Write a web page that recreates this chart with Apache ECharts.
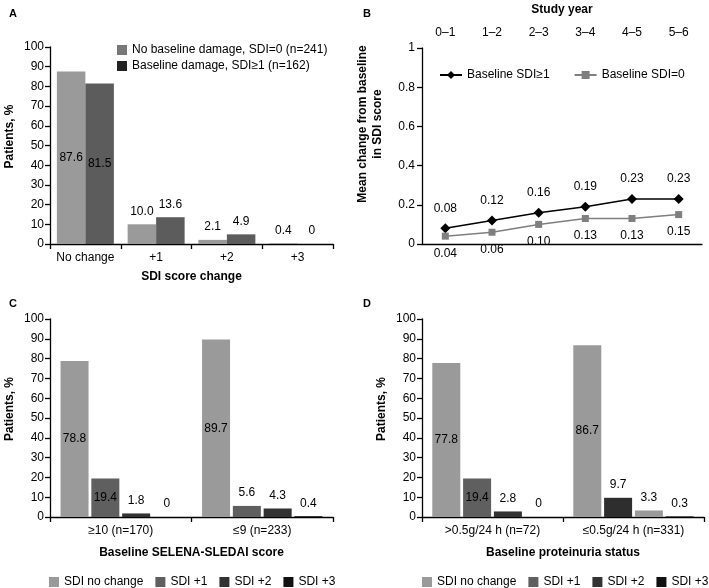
<!DOCTYPE html>
<html><head><meta charset="utf-8">
<script src="https://cdn.jsdelivr.net/npm/echarts@6/dist/echarts.min.js"></script>
<style>html,body{margin:0;padding:0;background:#fff}#c{width:709px;height:588px}</style>
</head><body><div id="c"></div>
<script>
// ---- Data ----
const aCategories = ['No change', '+1', '+2', '+3'];
const aNoDamage = [87.6, 10.0, 2.1, 0.4];
const aDamage = [81.5, 13.6, 4.9, 0];
const aLegend = ['No baseline damage, SDI=0 (n=241)', 'Baseline damage, SDI\u22651 (n=162)'];

const bCategories = ['0\u20131', '1\u20132', '2\u20133', '3\u20134', '4\u20135', '5\u20136'];
const bSdiGe1 = [0.08, 0.12, 0.16, 0.19, 0.23, 0.23];
const bSdi0 = [0.04, 0.06, 0.10, 0.13, 0.13, 0.15];
const bLegend = ['Baseline SDI\u22651', 'Baseline SDI=0'];

const cdLegend = ['SDI no change', 'SDI +1', 'SDI +2', 'SDI +3'];
const cCategories = ['\u226510 (n=170)', '\u22649 (n=233)'];
const cNoChange = [78.8, 89.7];
const cPlus1 = [19.4, 5.6];
const cPlus2 = [1.8, 4.3];
const cPlus3 = [0, 0.4];

const dCategories = ['>0.5g/24 h (n=72)', '\u22640.5g/24 h (n=331)'];
const dNoChange = [77.8, 86.7];
const dPlus1 = [19.4, 9.7];
const dPlus2 = [2.8, 3.3];
const dPlus3 = [0, 0.3];

// ---- Styles ----
const FONT = 'Liberation Sans, Arial, sans-serif';
const cSeriesColors = ['#9a9a9a', '#5f5f5f', '#333333', '#111111'];
const aBarColors = ['#9a9a9a', '#5c5c5c'];
const aLegendColors = ['#777777', '#222222'];
// panel D, second group: bar colours as printed in the reference
const dItemColors = [
  ['#9a9a9a', '#9a9a9a'],
  ['#5f5f5f', '#2e2e2e'],
  ['#333333', '#9a9a9a'],
  ['#111111', '#111111']
];

const txt = {color: '#000', fontFamily: FONT, fontSize: 12};
const bold = {color: '#000', fontFamily: FONT, fontSize: 12, fontWeight: 'bold'};
const axLine = {show: true, lineStyle: {color: '#000', width: 1.3}};
const axTick = {show: true, length: 5, lineStyle: {color: '#000', width: 1.3}};

function barY(gi, nameGap) {
  return {
    type: 'value', gridIndex: gi, min: 0, max: 100, interval: 10,
    axisLine: axLine, axisTick: axTick, splitLine: {show: false},
    axisLabel: Object.assign({margin: 6}, txt),
    name: 'Patients, %', nameLocation: 'middle', nameGap: nameGap, nameRotate: 90,
    nameTextStyle: Object.assign({padding: [0, 0, 0, 18]}, bold)
  };
}
function barX(gi, cats, name, nameGap) {
  return {
    type: 'category', gridIndex: gi, data: cats,
    axisLine: axLine, axisTick: axTick,
    axisLabel: Object.assign({margin: 8, interval: 0}, txt),
    name: name, nameLocation: 'middle', nameGap: nameGap, nameTextStyle: bold
  };
}
const fmt1 = p => p.value === 0 ? '0' : p.value.toFixed(1);
const topLabel = {show: true, position: 'top', distance: 7, color: '#000', fontFamily: FONT, fontSize: 12, formatter: fmt1};
const insideLabel = {show: true, position: 'inside', color: '#000', fontFamily: FONT, fontSize: 12, formatter: fmt1};

function cdSeries(gi, arrs, withOverrides) {
  return arrs.map((arr, si) => ({
    type: 'bar', name: cdLegend[si], xAxisIndex: gi, yAxisIndex: gi,
    barWidth: 28, barGap: '10%',
    itemStyle: {color: cSeriesColors[si]},
    data: arr.map((v, i) => {
      const o = {value: v};
      if (withOverrides) o.itemStyle = {color: dItemColors[si][i]};
      o.label = (si === 0 || (si === 1 && v > 15)) ? insideLabel : topLabel;
      return o;
    })
  }));
}

const panelTitle = (t, l, tp) => ({text: t, left: l, top: tp,
  textStyle: {fontSize: 11, fontWeight: 'bold', fontFamily: FONT, color: '#000'}});

const option = {
  animation: false,
  textStyle: {fontFamily: FONT},
  title: [panelTitle('A', 4, 3), panelTitle('B', 358, 3), panelTitle('C', 4, 293), panelTitle('D', 358, 293)],
  grid: [
    {left: 50, top: 47, width: 283, height: 197},
    {left: 422, top: 48, width: 280, height: 196},
    {left: 50, top: 319, width: 283, height: 198},
    {left: 422, top: 319, width: 282, height: 198}
  ],
  legend: [
    {
      orient: 'vertical', left: 112, top: 39, itemWidth: 10, itemHeight: 10, itemGap: 4,
      textStyle: txt, icon: 'rect',
      data: aLegend.map((n, i) => ({name: n, itemStyle: {color: aLegendColors[i]}}))
    },
    {
      left: 434, top: 64, itemWidth: 22, itemHeight: 10, itemGap: 24, textStyle: txt,
      data: bLegend
    },
    {
      left: 44, top: 571, width: 320, itemWidth: 10, itemHeight: 10, itemGap: 12, textStyle: txt, icon: 'rect',
      data: cdLegend.map((n, i) => ({name: n, itemStyle: {color: cSeriesColors[i]}}))
    },
    {
      left: 417, top: 571, width: 300, itemWidth: 10, itemHeight: 10, itemGap: 12, textStyle: txt, icon: 'rect',
      data: cdLegend.map((n, i) => ({name: n, itemStyle: {color: cSeriesColors[i]}}))
    }
  ],
  xAxis: [
    barX(0, aCategories, 'SDI score change', 27),
    {
      type: 'category', gridIndex: 1, data: bCategories, position: 'top', boundaryGap: true,
      axisLine: axLine, axisTick: {show: false}, axisLabel: Object.assign({margin: 9, interval: 0}, txt),
      name: 'Study year', nameLocation: 'middle', nameGap: 32, nameTextStyle: bold
    },
    barX(2, cCategories, 'Baseline SELENA-SLEDAI score', 30),
    barX(3, dCategories, 'Baseline proteinuria status', 30)
  ],
  yAxis: [
    barY(0, 34),
    {
      type: 'value', gridIndex: 1, min: 0, max: 1, interval: 0.2,
      axisLine: axLine, axisTick: axTick, splitLine: {show: false},
      axisLabel: Object.assign({margin: 7}, txt),
      name: 'Mean change from baseline\nin SDI score', nameLocation: 'middle', nameGap: 37, nameRotate: 90,
      nameTextStyle: Object.assign({padding: [0, 0, 0, 44], lineHeight: 15}, bold)
    },
    barY(2, 34),
    barY(3, 34)
  ],
  series: [
    {
      type: 'bar', name: aLegend[0], xAxisIndex: 0, yAxisIndex: 0, barWidth: 28.5, barGap: '0%',
      itemStyle: {color: aBarColors[0]},
      data: aNoDamage.map((v, i) => ({value: v, label: i === 0 ? insideLabel : topLabel}))
    },
    {
      type: 'bar', name: aLegend[1], xAxisIndex: 0, yAxisIndex: 0, barWidth: 28.5, barGap: '0%',
      itemStyle: {color: aBarColors[1]},
      data: aDamage.map((v, i) => ({value: v, label: i === 0 ? insideLabel : topLabel}))
    },
    {
      type: 'line', name: bLegend[0], xAxisIndex: 1, yAxisIndex: 1, data: bSdiGe1,
      symbol: 'diamond', symbolSize: 10, itemStyle: {color: '#000'}, lineStyle: {color: '#000', width: 1.5},
      label: {show: true, position: 'top', distance: 9, color: '#000', fontFamily: FONT, fontSize: 12,
        formatter: p => p.value.toFixed(2)}
    },
    {
      type: 'line', name: bLegend[1], xAxisIndex: 1, yAxisIndex: 1, data: bSdi0,
      symbol: 'rect', symbolSize: 7, itemStyle: {color: '#7f7f7f'}, lineStyle: {color: '#7f7f7f', width: 1.5},
      label: {show: true, position: 'bottom', distance: 8, color: '#000', fontFamily: FONT, fontSize: 12,
        formatter: p => p.value.toFixed(2)}
    }
  ].concat(
    cdSeries(2, [cNoChange, cPlus1, cPlus2, cPlus3], false),
    cdSeries(3, [dNoChange, dPlus1, dPlus2, dPlus3], true)
  )
};

const chart = echarts.init(document.getElementById('c'), null, {renderer: 'canvas'});
chart.setOption(option);
</script>
</body></html>
